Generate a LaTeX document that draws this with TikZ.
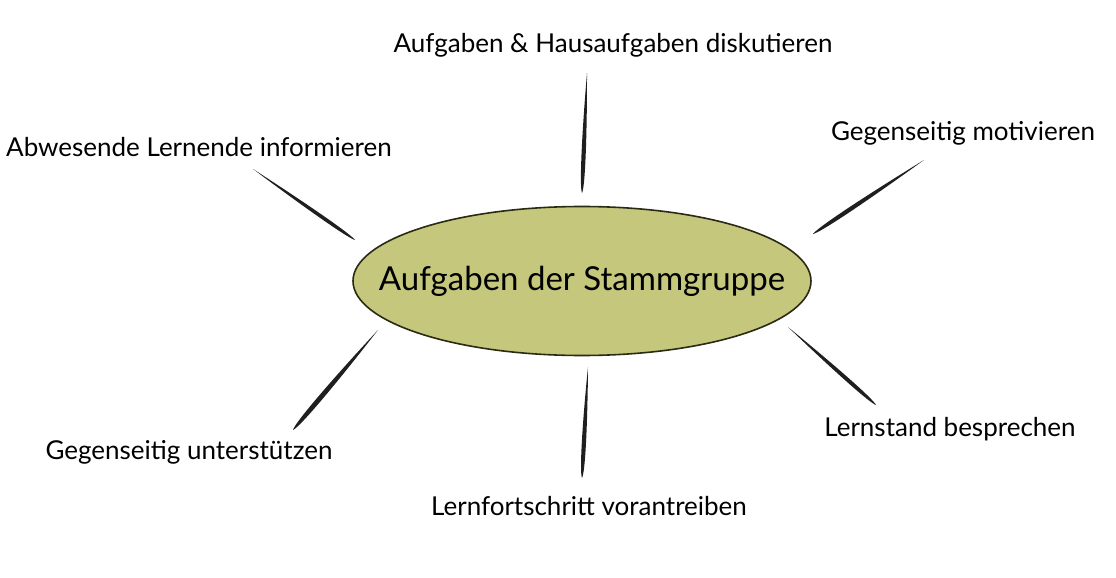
\documentclass[tikz,border=0pt]{standalone}
\usepackage{fontspec}
\setmainfont{Lato}
\usetikzlibrary{calc}
\definecolor{stammgreen}{HTML}{C4C77C}
\definecolor{rimdark}{HTML}{2B2B14}
\definecolor{brushgray}{HTML}{1F1F1F}
% tapered stroke: thin end #1, thick end #2, bulge #3
\newcommand{\brushline}[3]{%
  \fill[brushgray] (#1) .. controls ($($(#1)!0.55!(#2)$)!#3!90:(#2)$) and ($($(#1)!0.95!(#2)$)!#3!90:(#2)$) .. (#2)
    .. controls ($($(#1)!0.95!(#2)$)!#3!-90:(#2)$) and ($($(#1)!0.55!(#2)$)!#3!-90:(#2)$) .. (#1) -- cycle;}

\begin{document}
\begin{tikzpicture}[
    x=0.5pt, y=-0.5pt,
    topic/.style={font=\fontsize{13}{15}\selectfont, inner sep=0pt},
    hubrim/.style={draw=rimdark, line width=0.8pt, fill=stammgreen},
    hub/.style={inner sep=0pt, font=\fontsize{16.5}{19}\selectfont}
]
\useasboundingbox (0,0) rectangle (1116,578);

\coordinate (hub-c) at (582,281);
\draw[hubrim] (hub-c) ellipse [x radius=229, y radius=74.5];
\node[hub] (hub) at (hub-c) {Aufgaben der Stammgruppe};

\node[topic] (discuss) at (613,45) {Aufgaben \& Hausaufgaben diskutieren};
\node[topic] (absent) at (199,147) {Abwesende Lernende informieren};
\node[topic] (motivate) at (963,133) {Gegenseitig motivieren};
\node[topic] (status) at (950,429) {Lernstand besprechen};
\node[topic] (support) at (189,452) {Gegenseitig unterstützen};
\node[topic] (progress) at (589,506) {Lernfortschritt vorantreiben};

% brush strokes between hub and topics
\coordinate (discuss-a) at (587,73);   \coordinate (discuss-b) at (582,193);
\coordinate (absent-a) at (253,169);   \coordinate (absent-b) at (355,240);
\coordinate (motivate-a) at (924,160); \coordinate (motivate-b) at (813,234);
\coordinate (status-a) at (788,327);   \coordinate (status-b) at (876,405);
\coordinate (support-a) at (378,330);  \coordinate (support-b) at (293,430);
\coordinate (progress-a) at (588,367); \coordinate (progress-b) at (582,478);

\brushline{discuss-a}{discuss-b}{1.4pt}
\brushline{absent-a}{absent-b}{1.2pt}
\brushline{motivate-a}{motivate-b}{1.4pt}
\brushline{status-a}{status-b}{1.3pt}
\brushline{support-a}{support-b}{1.6pt}
\brushline{progress-a}{progress-b}{1.4pt}
\end{tikzpicture}
\end{document}
